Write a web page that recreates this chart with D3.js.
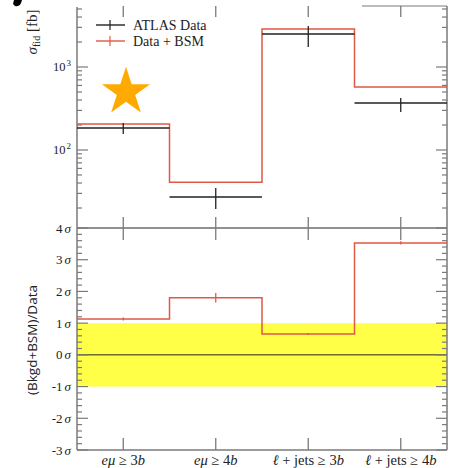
<!DOCTYPE html>
<html>
<head>
<meta charset="utf-8">
<script src="https://cdn.jsdelivr.net/npm/d3@7"></script>
<style>
  body { margin: 0; background: #fff; }
  svg text { font-family: "Liberation Serif", "DejaVu Serif", serif; }
</style>
</head>
<body>
<div id="chart"></div>
<script>
// DATA
var bins = ["eμ ≥ 3b", "eμ ≥ 4b", "ℓ + jets ≥ 3b", "ℓ + jets ≥ 4b"];
var atlasData = [184, 27.2, 2500, 368];
var atlasLow = [156, 19.5, 1740, 287];
var atlasHigh = [211, 34.8, 3120, 424];
var bsmData = [205, 41, 2870, 575];
var pull = [1.13, 1.8, 0.66, 3.53];
var pullErr = [0.05, 0.15, 0.03, 0.05];
var sigmaTicks = [-3, -2, -1, 0, 1, 2, 3, 4];
var logTicks = [100, 1000];

var width = 452, height = 468;
var red = "#dd5a45", dark = "#222", grey = "#7a7a7a";

var svg = d3.select("#chart").append("svg")
    .attr("width", width).attr("height", height);

var x = d3.scaleLinear().domain([0, 4]).range([77, 447]);
var yTop = d3.scaleLog().domain([Math.pow(10, 1.06), Math.pow(10, 3.723)]).range([228, 7]);
var yBot = d3.scaleLinear().domain([-3, 4]).range([450, 228]);

// yellow band
svg.append("rect")
    .attr("x", x(0)).attr("width", x(4) - x(0))
    .attr("y", yBot(1)).attr("height", yBot(-1) - yBot(1))
    .style("fill", "#ffff47");
svg.append("line").attr("x1", x(1)).attr("x2", x(1))
    .attr("y1", yBot(1)).attr("y2", yBot(-1)).style("stroke", "#fff", 0).style("stroke-opacity", 0.25);

// zero line and panel separator
svg.append("line").attr("x1", x(0)).attr("x2", x(4))
    .attr("y1", yBot(0)).attr("y2", yBot(0)).style("stroke", dark);
svg.append("line").attr("x1", x(0)).attr("x2", x(4))
    .attr("y1", yBot(4)).attr("y2", yBot(4)).style("stroke", dark);

// frame
svg.append("line").attr("x1", x(0)).attr("x2", x(0)).attr("y1", 7).attr("y2", 450).style("stroke", grey).style("stroke-width", 1.5);
svg.append("line").attr("x1", x(4)).attr("x2", x(4)).attr("y1", 6).attr("y2", 450).style("stroke", grey).style("stroke-width", 1.5);
svg.append("line").attr("x1", x(0)).attr("x2", x(4)).attr("y1", 450).attr("y2", 450).style("stroke", grey).style("stroke-width", 1.5);
svg.append("line").attr("x1", 362).attr("x2", x(4)).attr("y1", 6).attr("y2", 6).style("stroke", grey).style("stroke-width", 1.2);

// x ticks at bin centres
bins.forEach(function (b, i) {
  var cx = x(i + 0.5);
  [[6, 17], [217, 240], [438, 450]].forEach(function (s) {
    svg.append("line").attr("x1", cx).attr("x2", cx)
        .attr("y1", s[0]).attr("y2", s[1]).style("stroke", grey).style("stroke-width", 1.3);
  });
});

// log ticks (major + minor), both sides
var minor = [];
[10, 100, 1000].forEach(function (d) {
  for (var k = 2; k <= 9; k++) {
    var v = d * k;
    if (v > yTop.domain()[0] && v < yTop.domain()[1]) minor.push(v);
  }
});
function tick(xp, y, len) {
  svg.append("line").attr("x1", xp).attr("x2", xp + len)
      .attr("y1", y).attr("y2", y).style("stroke", grey).style("stroke-width", 1.2);
}
minor.forEach(function (v) { tick(x(0), yTop(v), 5); tick(x(4), yTop(v), -5); });
logTicks.forEach(function (v) { tick(x(0), yTop(v), 11); tick(x(4), yTop(v), -11); });

// sigma ticks
for (var s = -3; s <= 4.001; s += 0.2) {
  var major = Math.abs(s - Math.round(s)) < 1e-6;
  tick(x(0), yBot(s), major ? 11 : 5);
  tick(x(4), yBot(s), major ? -11 : -5);
}

// log tick labels
logTicks.forEach(function (v) {
  var t = svg.append("text").attr("x", 71).attr("y", yTop(v) + 4)
      .attr("text-anchor", "end").style("font-size", "12.5px").style("fill", dark);
  t.append("tspan").text("10");
  t.append("tspan").attr("dx", 1).attr("dy", -5).style("font-size", "9px").text(Math.log10(v));
});

// sigma labels
sigmaTicks.forEach(function (v) {
  var t = svg.append("text").attr("x", 71).attr("y", yBot(v) + 4.5)
      .attr("text-anchor", "end").style("font-size", "13px").style("fill", dark);
  t.append("tspan").text(v);
  t.append("tspan").attr("dx", 2).style("font-style", "italic").text("σ");
});

// x labels
bins.forEach(function (b, i) {
  var t = svg.append("text").attr("x", x(i + 0.5)).attr("y", 465)
      .attr("text-anchor", "middle").style("font-size", "14.5px").style("fill", dark);
  if (i < 2) {
    t.append("tspan").style("font-style", "italic").text("eμ");
    t.append("tspan").text(" ≥ " + (i + 3));
    t.append("tspan").style("font-style", "italic").text("b");
  } else {
    t.append("tspan").style("font-style", "italic").text("ℓ");
    t.append("tspan").text(" + jets ≥ " + (i + 1));
    t.append("tspan").style("font-style", "italic").text("b");
  }
});

// y labels
var yl = svg.append("text").attr("transform", "translate(37,32) rotate(-90)")
    .attr("text-anchor", "middle").style("font-size", "15px").style("fill", dark);
yl.append("tspan").style("font-style", "italic").text("σ");
yl.append("tspan").attr("dy", 3).style("font-size", "10px").text("fid");
yl.append("tspan").attr("dy", -3).text(" [fb]");

svg.append("text").attr("transform", "translate(37,340) rotate(-90)")
    .attr("text-anchor", "middle")
    .style("font-family", "'Open Sans', 'DejaVu Sans', sans-serif")
    .style("font-size", "13.5px").style("fill", dark)
    .text("(Bkgd+BSM)/Data");

// red step histograms
function steps(vals, sc) {
  var pts = [];
  vals.forEach(function (v, i) {
    pts.push([x(i), sc(v)]);
    pts.push([x(i + 1), sc(v)]);
  });
  return d3.line()(pts);
}
svg.append("path").attr("d", steps(bsmData, yTop))
    .style("fill", "none").style("stroke", red).style("stroke-width", 1.5);
svg.append("path").attr("d", steps(pull, yBot))
    .style("fill", "none").style("stroke", red).style("stroke-width", 1.5);

// pull error ticks
pull.forEach(function (v, i) {
  svg.append("line").attr("x1", x(i + 0.5)).attr("x2", x(i + 0.5))
      .attr("y1", yBot(v + pullErr[i])).attr("y2", yBot(v - pullErr[i]))
      .style("stroke", red).style("stroke-width", 1.3);
});

// ATLAS data
atlasData.forEach(function (v, i) {
  svg.append("line").attr("x1", x(i)).attr("x2", x(i + 1))
      .attr("y1", yTop(v)).attr("y2", yTop(v))
      .style("stroke", dark).style("stroke-width", 1.5);
  svg.append("line").attr("x1", x(i + 0.5)).attr("x2", x(i + 0.5))
      .attr("y1", yTop(atlasHigh[i])).attr("y2", yTop(atlasLow[i]))
      .style("stroke", dark).style("stroke-width", 1.3);
});

// legend
[["ATLAS Data", dark, 25], ["Data + BSM", red, 41]].forEach(function (l) {
  svg.append("line").attr("x1", 96).attr("x2", 125).attr("y1", l[2]).attr("y2", l[2])
      .style("stroke", l[1]).style("stroke-width", 1.4);
  svg.append("line").attr("x1", 110).attr("x2", 110).attr("y1", l[2] - 5).attr("y2", l[2] + 5)
      .style("stroke", l[1]).style("stroke-width", 1.2);
  svg.append("text").attr("x", 133).attr("y", l[2] + 5)
      .style("font-size", "14px").style("fill", dark).text(l[0]);
});

// star
svg.append("path")
    .attr("d", d3.symbol().type(d3.symbolStar).size(720)())
    .attr("transform", "translate(126,92)")
    .style("fill", "#ffaa00");

// cropped blot at the top-left corner
svg.append("path")
    .attr("d", "M14,0 L22,0 L21,3 Q19,7 15,6 L13,4 Z")
    .style("fill", "#000");
</script>
</body>
</html>
